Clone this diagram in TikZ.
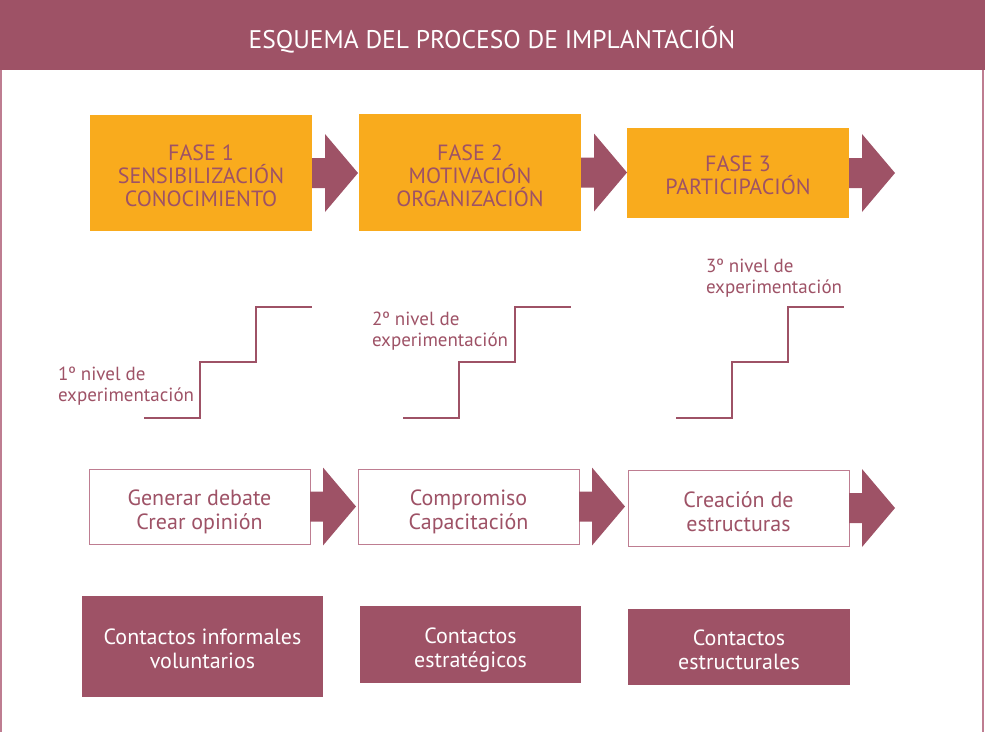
\documentclass[tikz,border=0pt]{standalone}
\usepackage{fontspec}
\setmainfont{PT Sans}
\usepackage{tikz}
\usetikzlibrary{calc}
\usetikzlibrary{positioning}

\definecolor{granate}{RGB}{158,82,102}
\definecolor{granateclaro}{RGB}{190,125,145}
\definecolor{naranja}{RGB}{249,171,29}

% Block arrow leaving the east side of a box.
\newcommand{\flecha}[1]{%
	\fill [granate] ($(#1.east)+(0,-15)$) -- ++(13,0) -- ++(0,-24) -- ++(33,39)
		-- ++(-33,39) -- ++(0,-24) -- ++(-13,0) -- cycle;}

\begin{document}
\begin{tikzpicture}[x=1pt,y=-1pt,outer sep=0pt,inner sep=0pt]

	\tikzstyle{every node}=[font=\fontsize{22}{23}\selectfont]

	\tikzset{fase/.style={align=center,shape=rectangle,
		minimum width=222,fill=naranja,text=granate,
		text height=67pt,text depth=0pt}}

	\tikzset{accion/.style={align=center,shape=rectangle,
		minimum width=221,fill=white,draw=granateclaro,line width=1pt,text=granate,
		font=\fontsize{22}{24}\selectfont,text height=45pt,text depth=0pt}}

	\tikzset{contacto/.style={align=center,shape=rectangle,
		minimum width=222,fill=granate,text=white,
		font=\fontsize{22}{24}\selectfont,text height=45pt,text depth=0pt}}

	\tikzset{nivel/.style={align=left,anchor=west,text=granate,
		font=\fontsize{19}{21}\selectfont}}

	\tikzset{escalon/.style={draw=granate,line width=2pt}}

	\useasboundingbox (0,0) rectangle (985,732);

	% Header band and frame.
	\fill [granate] (0,0) rectangle (985,70);
	\draw [granateclaro,line width=1.2pt] (1,70) -- (1,732);
	\draw [granateclaro,line width=1.2pt] (983,70) -- (983,732);
	\node (titulo) at (492,40) [text=white,font=\fontsize{25.5}{28}\selectfont]
		{ESQUEMA DEL PROCESO DE IMPLANTACIÓN};

	% Phases.
	\node (fase1) at (201,173) [fase,minimum height=116] {FASE 1\\SENSIBILIZACIÓN\\CONOCIMIENTO};
	\node (fase2) at (470,172.5) [fase,minimum height=117] {FASE 2\\MOTIVACIÓN\\ORGANIZACIÓN};
	\node (fase3) at (738,173) [fase,minimum height=90,text height=43pt] {FASE 3\\PARTICIPACIÓN};

	\flecha{fase1}
	\flecha{fase2}
	\flecha{fase3}

	% Stairs, one per level.
	\foreach \sx in {144,403,676}
		\draw [escalon] (\sx,418) -- ++(56,0) -- ++(0,-56) -- ++(56,0) -- ++(0,-55) -- ++(56,0);

	\node (nivel1) at (58,386) [nivel] {1º nivel de\\experimentación};
	\node (nivel2) at (372,331) [nivel] {2º nivel de\\experimentación};
	\node (nivel3) at (706,278) [nivel] {3º nivel de\\experimentación};

	% Actions.
	\node (accion1) at (199.5,506.5) [accion,minimum height=75] {Generar debate\\Crear opinión};
	\node (accion2) at (468.5,506.5) [accion,minimum height=75] {Compromiso\\Capacitación};
	\node (accion3) at (738.5,508) [accion,minimum height=76,text height=46pt] {Creación de\\estructuras};

	\flecha{accion1}
	\flecha{accion2}
	\flecha{accion3}

	% Contacts.
	\node (contacto1) at (202.5,646.5) [contacto,minimum width=241,minimum height=101,text height=43pt] {Contactos informales\\voluntarios};
	\node (contacto2) at (470.5,644.5) [contacto,minimum width=221,minimum height=77,text height=46pt] {Contactos\\estratégicos};
	\node (contacto3) at (739,647) [contacto,minimum height=76] {Contactos\\estructurales};
\end{tikzpicture}
\end{document}
